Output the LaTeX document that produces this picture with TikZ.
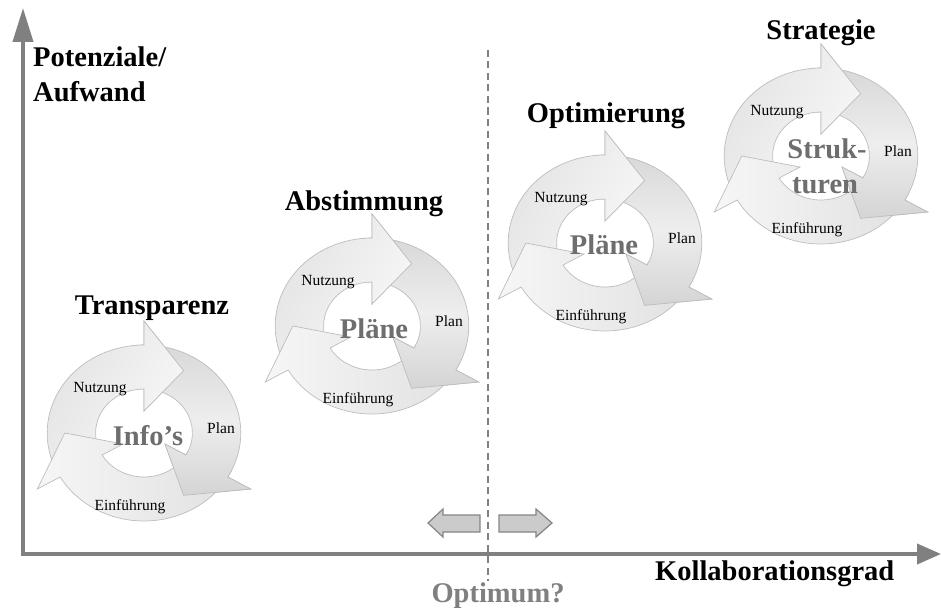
\documentclass[tikz,border=0pt]{standalone}
\usepackage{fontspec}
\setmainfont{Liberation Serif}
\usetikzlibrary{arrows.meta}
\definecolor{axisgray}{HTML}{808080}
\definecolor{ringedge}{HTML}{BDBDBD}
\definecolor{centergray}{HTML}{6E6E6E}
\definecolor{blockfill}{HTML}{CBCBCB}
\definecolor{blockedge}{HTML}{858585}
\definecolor{tA}{HTML}{E2E2E2}
\definecolor{tB}{HTML}{F8F8F8}
\definecolor{rA}{HTML}{D8D8D8}
\definecolor{rB}{HTML}{EEEEEE}
\definecolor{rC}{HTML}{D4D4D4}
\definecolor{lA}{HTML}{F6F6F6}
\definecolor{lB}{HTML}{E2E2E2}

% one circular arrow: #1 = angle of the arrow-head base
\newcommand\arrowshape[1]{({#1+117}:44pt) -- ({#1+117}:88pt)
  arc[start angle={#1+117}, end angle={#1}, radius=88pt]
  -- (#1:112pt) -- ({#1-30}:72pt) -- (#1:22pt) -- (#1:44pt)
  arc[start angle={#1}, end angle={#1+117}, radius=44pt] -- cycle}

% #1,#2 centre, #3 name prefix
\newcommand\drawcycle[3]{%
  \begin{scope}[shift={(#1,#2)}, xscale=1.1]
    \path[ringstroke, shT] \arrowshape{90};
    \path[ringstroke, shR] \arrowshape{-30};
    \path[ringstroke, shL] \arrowshape{210};
    \begin{scope}
      \clip (0,0) -- (50:140pt) -- (72:140pt) -- (95:140pt) -- cycle;
      \path[ringstroke, shT] \arrowshape{90};
    \end{scope}
    \begin{scope}
      \clip (0,0) -- (-25:140pt) -- (-47:140pt) -- (-70:140pt) -- cycle;
      \path[ringstroke, shR] \arrowshape{-30};
    \end{scope}
  \end{scope}
  \begin{scope}[shift={(#1,#2)}]
    \node[lbl] (#3-nutzung) at (-44,-41) {Nutzung};
    \node[lbl] (#3-plan) at (77,0) {Plan};
    \node[lbl] (#3-einf) at (-14,77) {Einführung};
  \end{scope}}

\begin{document}
\begin{tikzpicture}[x=1pt, y=-1pt,
  ringstroke/.style={draw=ringedge, line width=0.7pt, line join=miter},
  shT/.style={shade, shading=axis, left color=tA, right color=tB, shading angle=60},
  shR/.style={shade, shading=axis, top color=rA, bottom color=rC, middle color=rB},
  shL/.style={shade, shading=axis, left color=lA, right color=lB},
  lbl/.style={font=\fontsize{15.5}{18}\selectfont, inner sep=0pt, anchor=base},
  ttl/.style={font=\bfseries\fontsize{28.5}{34}\selectfont, inner sep=0pt, anchor=base},
  ctr/.style={ttl, text=centergray},
  axisline/.style={draw=axisgray, line width=4pt, line join=miter},
  dashline/.style={draw=axisgray, line width=1.8pt, dash pattern=on 7pt off 4.5pt},
  blockarrow/.style={fill=blockfill, draw=blockedge, line width=1.2pt, line join=miter}]

\useasboundingbox (0,0) rectangle (941,607);

% axes
\coordinate (ytop) at (23,8);
\coordinate (origin) at (23,554);
\coordinate (xend) at (941,554);
\draw[axisline, {Triangle[length=34pt,width=20pt]}-{Triangle[length=24pt,width=20pt]}]
  (ytop) -- (origin) -- (xend);

% dashed optimum line
\coordinate (dtop) at (488,50);
\coordinate (dbot) at (488,581);
\draw[dashline] (dtop) -- (dbot);

% small block arrows
\draw[blockarrow] (428,523) -- (443,509) -- (443,515) -- (480,515) -- (480,532)
  -- (443,532) -- (443,537) -- cycle;
\draw[blockarrow] (552,523) -- (536,509) -- (536,515) -- (499,515) -- (499,532)
  -- (536,532) -- (536,537) -- cycle;

% cycles
\drawcycle{144}{433}{c1}
\drawcycle{372}{326}{c2}
\drawcycle{605}{243}{c3}
\drawcycle{821}{156}{c4}

% centre texts
\node[ctr] (c1-text) at (148,445) {Info’s};
\node[ctr] (c2-text) at (374,338) {Pläne};
\node[ctr] (c3-text) at (604,254) {Pläne};
\node[ctr] (c4-text1) at (827,158) {Struk-};
\node[ctr] (c4-text2) at (825,193) {turen};

% titles
\node[ttl] (t1) at (152,314) {Transparenz};
\node[ttl] (t2) at (364,210) {Abstimmung};
\node[ttl] (t3) at (606,122) {Optimierung};
\node[ttl] (t4) at (821,40) {Strategie};

% axis labels
\node[ttl, anchor=base west] (ylab1) at (33,67) {Potenziale/};
\node[ttl, anchor=base west] (ylab2) at (33,102) {Aufwand};
\node[ttl, anchor=base west] (xlab) at (655,580) {Kollaborationsgrad};
\node[ttl, text=axisgray] (opt) at (498,602) {Optimum?};
\end{tikzpicture}
\end{document}
